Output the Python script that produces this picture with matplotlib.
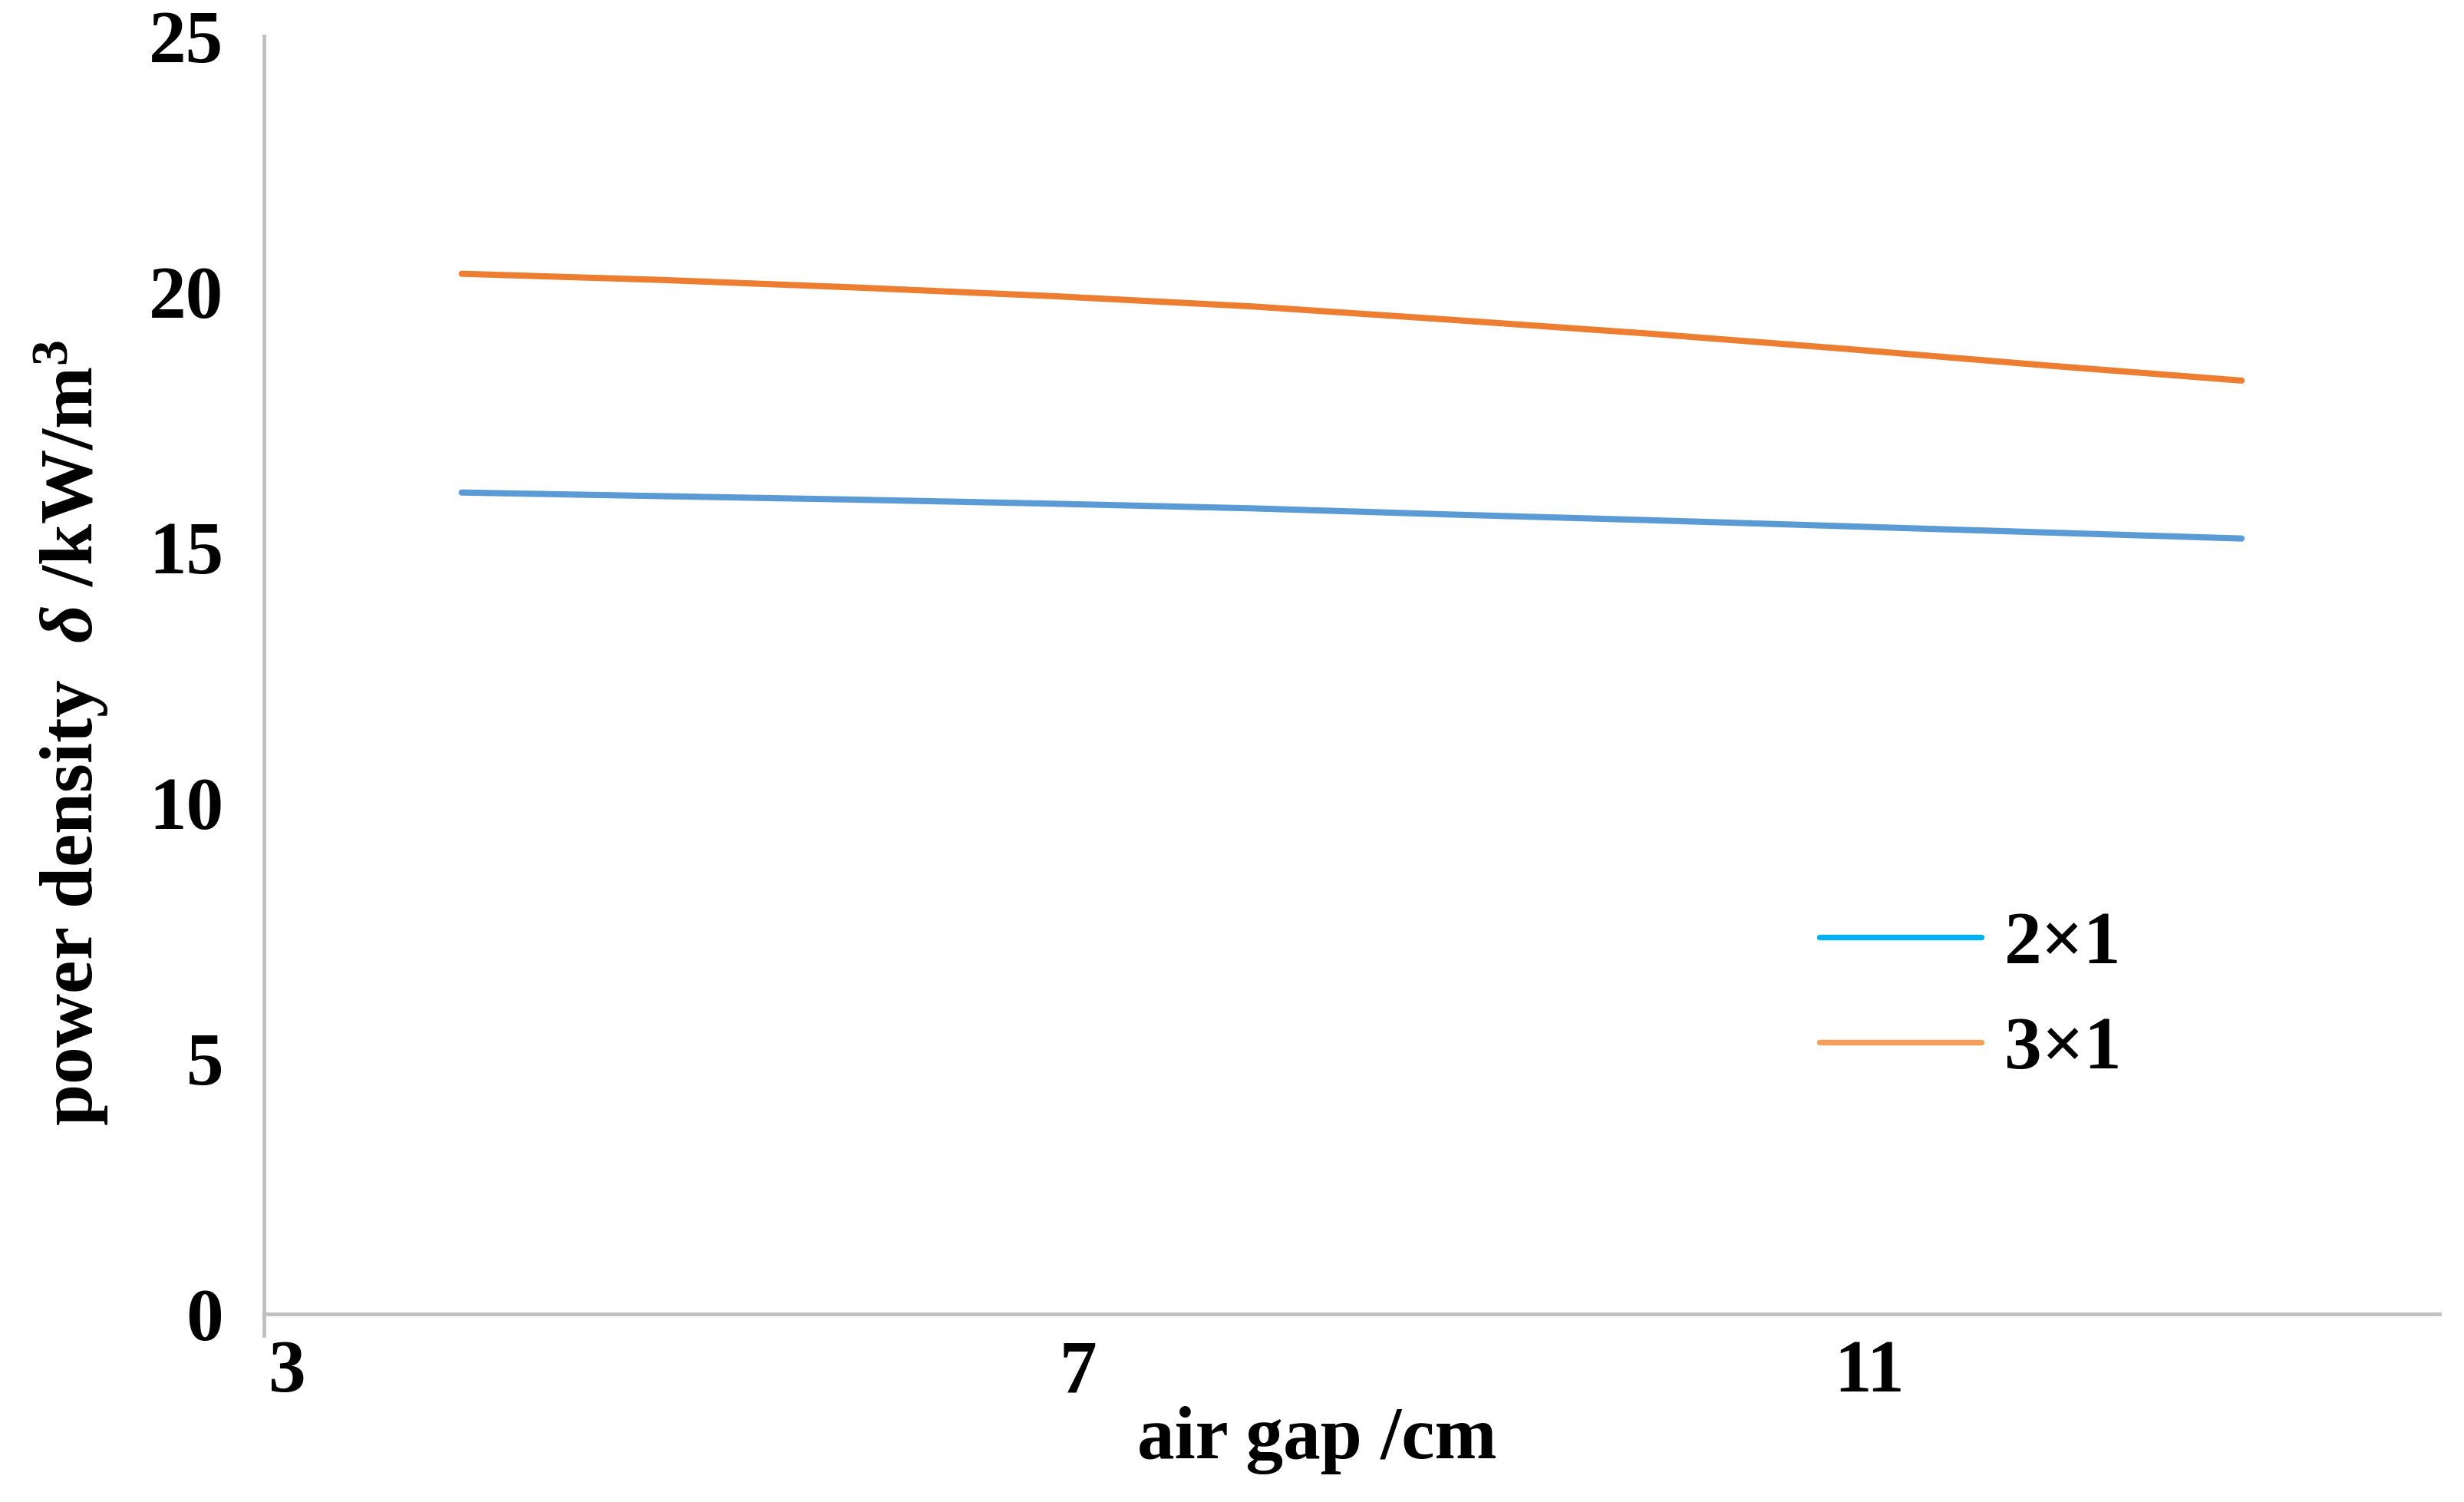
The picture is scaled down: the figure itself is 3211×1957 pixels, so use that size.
import matplotlib
matplotlib.use("Agg")
import matplotlib.pyplot as plt
from matplotlib.lines import Line2D
from matplotlib.transforms import ScaledTranslation

# air gap (cm) and power density (kW/m3)
air_gap = [4, 5, 6, 7, 8, 9, 10, 11, 12, 13]
dens_2x1 = [16.07, 16.00, 15.93, 15.85, 15.76, 15.64, 15.53, 15.41, 15.29, 15.17]
dens_3x1 = [20.35, 20.23, 20.08, 19.91, 19.71, 19.45, 19.18, 18.88, 18.56, 18.26]
series_names = ["2×1", "3×1"]
x_ticks = [3, 7, 11]
y_ticks = [0, 5, 10, 15, 20, 25]

plt.rcParams["font.family"] = "Liberation Serif"
plt.rcParams["font.weight"] = "bold"
plt.rcParams["mathtext.fontset"] = "custom"
plt.rcParams["mathtext.rm"] = "Liberation Serif:bold"
plt.rcParams["mathtext.it"] = "Liberation Serif:italic"
plt.rcParams["mathtext.bf"] = "Liberation Serif:bold"

fs = 70
fig = plt.figure(figsize=(32.11, 19.57), dpi=100)
ax = fig.add_axes([0.1071, 0.1252, 0.8829, 0.8508])

ax.plot(air_gap, dens_2x1, color="#5B9BD5", lw=5.8, solid_capstyle="round")
ax.plot(air_gap, dens_3x1, color="#ED7D31", lw=5.8, solid_capstyle="round")

ax.set_xlim(3, 14)
ax.set_ylim(0, 25)
ax.set_xticks(x_ticks)
ax.set_yticks(y_ticks)
ax.tick_params(axis="both", length=0, labelsize=fs)
ax.tick_params(axis="x", pad=24)
ax.tick_params(axis="y", pad=38)
shift = ScaledTranslation(0.3, 0, fig.dpi_scale_trans)
for lab in ax.get_xticklabels():
    lab.set_fontweight("bold")
    lab.set_transform(lab.get_transform() + shift)
for lab in ax.get_yticklabels():
    lab.set_fontweight("bold")

for s in ["top", "right"]:
    ax.spines[s].set_visible(False)
for s in ["left", "bottom"]:
    ax.spines[s].set_color("#BFBFBF")
    ax.spines[s].set_linewidth(3.4)
ax.spines["left"].set_bounds(-0.42, 25)

ax.set_xlabel("air gap /cm", fontsize=fs, fontweight="bold")
ax.set_ylabel("power density  $\\delta$ /kW/m$^{3}$", fontsize=fs, fontweight="bold")
ax.xaxis.set_label_coords(0.484, -0.072)
ax.yaxis.set_label_coords(-0.071, 0.455)

handles = [
    Line2D([], [], color="#00B0F0", lw=5.3, solid_capstyle="round"),
    Line2D([], [], color="#F4A05A", lw=5.3, solid_capstyle="round"),
]
fig.legend(handles, series_names, loc="center", bbox_to_anchor=(0.7997, 0.3357),
           frameon=False, prop={"weight": "bold", "size": fs},
           handlelength=2.17, handletextpad=0.3, labelspacing=0.5)

fig.savefig("out.png", dpi=100)
